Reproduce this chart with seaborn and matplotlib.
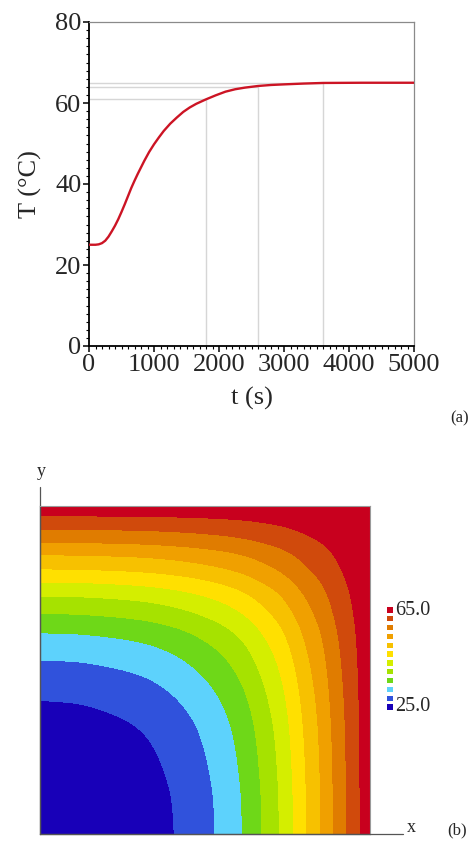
import numpy as np
import pandas as pd
import matplotlib
matplotlib.use("Agg")
import matplotlib.pyplot as plt
from matplotlib.ticker import MultipleLocator
import seaborn as sns

sns.set_theme(style="ticks")
plt.rcParams['font.family'] = ['Liberation Serif', 'DejaVu Serif']

# ---- (a) temperature history
time_s = [0, 100, 150, 200, 250, 300, 350, 400, 450, 500, 550, 600, 650, 700,
          750, 800, 850, 925, 1000, 1075, 1150, 1250, 1350, 1450, 1550, 1650,
          1800, 1950, 2100, 2250, 2400, 2600, 2800, 3000, 3300, 3600, 4200, 5000]
temp_c = [25.0, 25.0, 25.1, 25.4, 26.0, 27.0, 28.3, 29.7, 31.3, 33.1, 35.0, 37.0,
          39.0, 40.8, 42.5, 44.1, 45.7, 47.9, 49.8, 51.5, 53.1, 54.9, 56.4, 57.8,
          58.9, 59.8, 60.9, 61.9, 62.8, 63.4, 63.8, 64.2, 64.45, 64.6, 64.8, 64.95,
          65.0, 65.0]
drop_t = [1800, 2600, 3600]
drop_T = [61.0, 64.0, 65.0]

edge_pos = [0.0, 0.1, 0.2, 0.31, 0.406, 0.530, 0.613, 0.672, 0.725, 0.768,
            0.808, 0.851, 0.889, 0.929, 0.970, 1.0]
edge_T = [25.0, 25.15, 25.7, 26.7, 28.33, 31.67, 35.0, 38.33, 41.67, 45.0,
          48.33, 51.67, 55.0, 58.33, 61.67, 65.0]
T_min, T_max = 25.0, 65.0
band_colors = ['#1800b8', '#3052dc', '#5dd2fc', '#6ed818', '#a6e200', '#d4ee00',
               '#ffe000', '#f7c100', '#f0a000', '#e07c00', '#d04a0c', '#c8001e']
cbar_labels = ['25.0', '65.0']


def pchip(xk, yk, x):
    # monotone cubic through the read-off edge points
    xk = np.asarray(xk, float)
    yk = np.asarray(yk, float)
    h = np.diff(xk)
    d = np.diff(yk) / h
    m = np.zeros_like(yk)
    for k in range(1, len(xk) - 1):
        if d[k - 1] * d[k] > 0:
            w1 = 2 * h[k] + h[k - 1]
            w2 = h[k] + 2 * h[k - 1]
            m[k] = (w1 + w2) / (w1 / d[k - 1] + w2 / d[k])
    m[0] = 0.0
    m[-1] = d[-1]
    i = np.clip(np.searchsorted(xk, x) - 1, 0, len(xk) - 2)
    t = (x - xk[i]) / h[i]
    h00 = 2 * t**3 - 3 * t**2 + 1
    h10 = t**3 - 2 * t**2 + t
    h01 = -2 * t**3 + 3 * t**2
    h11 = t**3 - t**2
    return h00 * yk[i] + h10 * h[i] * m[i] + h01 * yk[i + 1] + h11 * h[i] * m[i + 1]


fig = plt.figure(figsize=(4.76, 8.43), dpi=100)
W, H = 476, 843

def px_axes(l, t, r, b):
    return fig.add_axes([l / W, 1 - b / H, (r - l) / W, (b - t) / H])

# ================= top panel =================
ax1 = px_axes(89, 22, 414, 346)
df = pd.DataFrame({'t': time_s, 'T': temp_c})
for tx, Tx in zip(drop_t, drop_T):
    ax1.plot([0, tx], [Tx, Tx], color='#d6d6d6', lw=1.0, zorder=1)
    ax1.plot([tx, tx], [0, Tx], color='#d6d6d6', lw=1.0, zorder=1)
sns.lineplot(data=df, x='t', y='T', color='#cc1424', lw=1.7, ax=ax1, zorder=3)

ax1.set_xlim(0, 5000)
ax1.set_ylim(0, 80)
ax1.xaxis.set_major_locator(MultipleLocator(1000))
ax1.xaxis.set_minor_locator(MultipleLocator(100))
ax1.yaxis.set_major_locator(MultipleLocator(20))
ax1.yaxis.set_minor_locator(MultipleLocator(2))
ax1.tick_params(which='major', direction='out', length=4.5, width=1.1,
                labelsize=19, pad=1, color='black')
ax1.tick_params(which='minor', direction='out', length=2.2, width=0.8, color='black')
for s in ['left', 'bottom']:
    ax1.spines[s].set_color('black')
    ax1.spines[s].set_linewidth(1.3)
for s in ['top', 'right']:
    ax1.spines[s].set_visible(True)
    ax1.spines[s].set_color('#8a8a8a')
    ax1.spines[s].set_linewidth(0.9)
ax1.set_xlabel('t (s)', fontsize=19)
ax1.set_ylabel('T (°C)', fontsize=19)
ax1.xaxis.set_label_coords(0.5, -0.125)
ax1.yaxis.set_label_coords(-0.145, 0.5)
fig.text(460 / W, 1 - 418 / H, '(a)', fontsize=12, ha='center', va='center')

# ================= bottom panel =================
ax2 = px_axes(40, 506, 370, 834)
g = np.linspace(0, 1, 501)
X, Y = np.meshgrid(g, g)
theta_e = (T_max - pchip(edge_pos, edge_T, g)) / (T_max - T_min)
theta0 = (T_max - edge_T[0]) / (T_max - T_min)
# product of the two edge profiles
theta = np.outer(theta_e, theta_e) / theta0
field = T_max - (T_max - T_min) * theta
levels = np.linspace(T_min, T_max, len(band_colors) + 1)
levels[0] -= 0.01
levels[-1] += 0.01
ax2.contourf(X, Y, field, levels=levels, colors=band_colors)
ax2.set_xlim(0, 1)
ax2.set_ylim(0, 1)
ax2.set_xticks([])
ax2.set_yticks([])
for s in ['top', 'right']:
    ax2.spines[s].set_color('#9a9a9a')
    ax2.spines[s].set_linewidth(0.8)
for s in ['left', 'bottom']:
    ax2.spines[s].set_color('#555555')
    ax2.spines[s].set_linewidth(0.9)
ax2.plot([0, 0], [0, 1.058], transform=ax2.transAxes, clip_on=False,
         color='#555555', lw=0.9)
ax2.plot([0, 1.1], [0, 0], transform=ax2.transAxes, clip_on=False,
         color='#555555', lw=0.9)
fig.text(41 / W, 1 - 472 / H, 'y', fontsize=13, ha='center', va='center')
fig.text(411 / W, 1 - 827 / H, 'x', fontsize=13, ha='center', va='center')
fig.text(457 / W, 1 - 830 / H, '(b)', fontsize=12, ha='center', va='center')

# discrete legend squares
ax_cb = px_axes(380, 605.6, 400, 711.4)
cb_df = pd.DataFrame({'x': [0] * len(band_colors),
                      'y': list(range(len(band_colors))),
                      'c': band_colors})
sns.scatterplot(data=cb_df, x='x', y='y', hue='c', palette=band_colors,
                marker='s', s=14, linewidth=0, legend=False, ax=ax_cb)
ax_cb.set_xlim(-1, 1)
ax_cb.set_ylim(-0.5, len(band_colors) - 0.5)
ax_cb.axis('off')
ax_cb.text(0.55, len(band_colors) - 1, cbar_labels[1], fontsize=14.5,
           ha='left', va='center', clip_on=False)
ax_cb.text(0.55, 0, cbar_labels[0], fontsize=14.5, ha='left', va='center', clip_on=False)

fig.savefig('out.png', dpi=100)
